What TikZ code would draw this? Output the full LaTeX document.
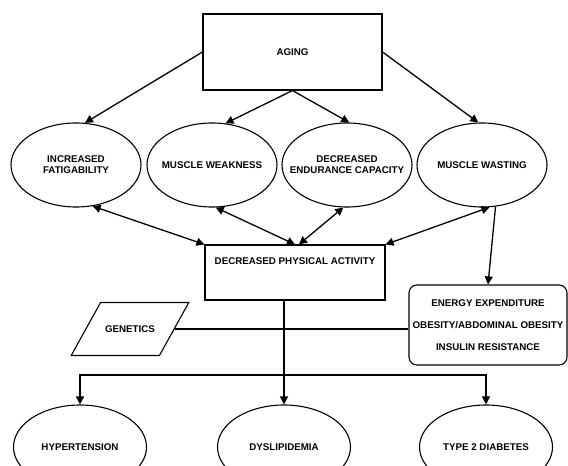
\documentclass[tikz,border=0pt]{standalone}
\usepackage{fontspec}
\setmainfont{Liberation Sans}
\usepackage{tikz}
\usetikzlibrary{arrows.meta,shapes.geometric,calc,positioning}

\begin{document}
\begin{tikzpicture}[x=1bp,y=-1bp,line width=1.3bp,
every node/.style={font=\fontsize{9.8}{11}\selectfont\bfseries,align=center},
box/.style={rectangle,draw,line width=1.1bp,inner sep=0pt},
oval/.style={ellipse,draw,line width=1.1bp,inner xsep=-25bp,inner ysep=-5bp,minimum width=130bp,minimum height=84bp},
arr/.style={-{Triangle[length=8bp,width=8bp]}},
barr/.style={{Triangle[length=8bp,width=8bp]}-{Triangle[length=8bp,width=8bp]}}]
\useasboundingbox (0,0) rectangle (568,466);
% top
\node (ag) at (292.5,52)[box,minimum width=179bp,minimum height=76bp] {AGING};
\node (fa) at (76,165)[oval] {INCREASED\\FATIGABILITY};
\node (mw) at (212,165)[oval] {MUSCLE WEAKNESS};
\node (ec) at (347,165)[oval] {DECREASED\\ENDURANCE CAPACITY};
\node (ms) at (482,165)[oval] {MUSCLE WASTING};
\draw[arr] (ag.west) -- (fa.78);
\draw[arr] (ag.south) -- (mw.72);
\draw[arr] (ag.south) -- (ec.87);
\draw[arr] (ag.east) -- (ms.95);
% middle
\node (pa) at (295,272.5)[box,minimum width=180bp,minimum height=55bp,text depth=22bp] {DECREASED PHYSICAL ACTIVITY};
\node (en) at (488,325)[box,rounded corners=8bp,minimum width=158bp,minimum height=80bp,font=\fontsize{9.8}{22}\selectfont\bfseries] {ENERGY EXPENDITURE\\OBESITY/ABDOMINAL OBESITY\\INSULIN RESISTANCE};
\node (ge) at (130,329)[trapezium,draw,line width=1.1bp,trapezium left angle=61,trapezium right angle=119,inner xsep=4.5bp,inner ysep=23bp] {GENETICS};
\draw[barr] (fa.-68) -- (pa.north west);
\draw[barr] (mw.-85) -- (pa.north);
\draw[barr] (ec.-95) -- ([xshift=4bp]pa.north);
\draw[barr] (ms.-80) -- (pa.north east);
\draw[arr] (ms.-72) -- (en.north);
\draw (ge.east) -- (ge.east -| en.west);
% bottom
\node (hy) at (80,447)[oval,minimum width=133bp] {HYPERTENSION};
\node (dy) at (284,447)[oval,minimum width=133bp] {DYSLIPIDEMIA};
\node (t2) at (486,447)[oval,minimum width=133bp] {TYPE 2 DIABETES};
\coordinate (j) at (284,375);
\draw[arr] (pa.south -| dy) -- (dy);
\draw[arr] (j) -| (hy);
\draw[arr] (j) -| (t2);
\end{tikzpicture}
\end{document}
